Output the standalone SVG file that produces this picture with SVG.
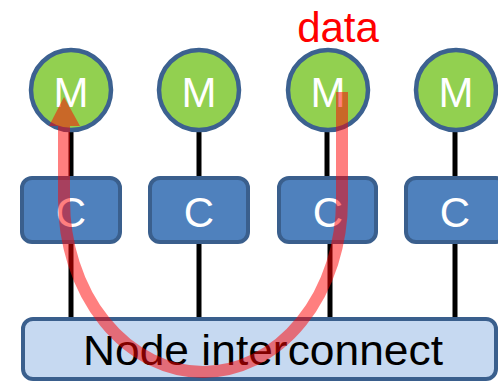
<svg xmlns="http://www.w3.org/2000/svg" width="498" height="381" viewBox="0 0 498 381">
<style>
.mem{fill:#92d050;stroke:#3c6190;stroke-width:4.5}
.cache{fill:#4f81bd;stroke:#3a5f8d;stroke-width:4}
.lbl{font-family:"Liberation Sans",Arial,sans-serif;font-size:42px;fill:#ffffff;text-anchor:middle}
.wire{stroke:#000;stroke-width:5}
</style>
<g id="connectors">
<line class="wire" x1="71" y1="130" x2="71" y2="179"/>
<line class="wire" x1="199" y1="130" x2="199" y2="179"/>
<line class="wire" x1="327" y1="130" x2="327" y2="179"/>
<line class="wire" x1="455" y1="130" x2="455" y2="179"/>
<line class="wire" x1="71" y1="241" x2="71" y2="320"/>
<line class="wire" x1="199" y1="241" x2="199" y2="320"/>
<line class="wire" x1="330" y1="241" x2="330" y2="320"/>
<line class="wire" x1="455" y1="241" x2="455" y2="320"/>
</g>
<g id="m1"><circle class="mem" cx="71" cy="90" r="40"/><text class="lbl" x="71" y="107">M</text></g>
<g id="m2"><circle class="mem" cx="199" cy="90" r="40"/><text class="lbl" x="199" y="107">M</text></g>
<g id="m3"><circle class="mem" cx="328" cy="90" r="40"/><text class="lbl" x="328" y="107">M</text></g>
<g id="m4"><circle class="mem" cx="456" cy="90" r="40"/><text class="lbl" x="456" y="107">M</text></g>
<g id="c1"><rect class="cache" x="22" y="178" width="98" height="64" rx="10"/><text class="lbl" x="71" y="227">C</text></g>
<g id="c2"><rect class="cache" x="150" y="178" width="98" height="64" rx="10"/><text class="lbl" x="199" y="227">C</text></g>
<g id="c3"><rect class="cache" x="279" y="178" width="97" height="64" rx="10"/><text class="lbl" x="328" y="227">C</text></g>
<g id="c4"><rect class="cache" x="406" y="178" width="100" height="64" rx="10"/><text class="lbl" x="455" y="227">C</text></g>
<g id="interconnect"><rect x="23" y="319" width="473" height="60" rx="10" fill="#c6d9f1" stroke="#3a5f8d" stroke-width="4"/><text x="263" y="365" font-family="'Liberation Sans',Arial,sans-serif" font-size="42" fill="#000" text-anchor="middle" textLength="360" lengthAdjust="spacingAndGlyphs">Node interconnect</text></g>
<g id="data-label"><text x="338" y="42" font-family="'Liberation Sans',Arial,sans-serif" font-size="42" fill="#ff0000" text-anchor="middle">data</text></g>
<g id="flow">
<path d="M342,92 V200 A139,172 0 0 1 64,200 V126" fill="none" stroke="#ff0000" stroke-opacity="0.5" stroke-width="12"/>
<polygon points="64,97 49,126 80,126" fill="#ff0000" fill-opacity="0.5"/>
</g>
</svg>
